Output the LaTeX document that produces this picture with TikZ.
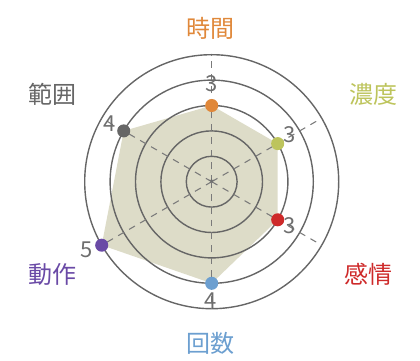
\documentclass[tikz,border=0pt]{standalone}
\usepackage{fontspec}
\setmainfont{Noto Sans CJK JP}
\usetikzlibrary{calc}
\definecolor{cTime}{HTML}{E0883A}
\definecolor{cDens}{HTML}{BDC45C}
\definecolor{cEmo}{HTML}{CE2A2A}
\definecolor{cCnt}{HTML}{6C9FD0}
\definecolor{cAct}{HTML}{6A4AA6}
\definecolor{cRng}{HTML}{666666}
\definecolor{ringgray}{HTML}{666666}
\definecolor{spokegray}{HTML}{7A7A7A}
\definecolor{numgray}{HTML}{6E6E6E}
\definecolor{polyfill}{HTML}{DDDCC8}
\tikzset{
  ring/.style={draw=ringgray, line width=1.05pt},
  spoke/.style={draw=spokegray, line width=0.8pt, dash pattern=on 5pt off 4.5pt},
  dot/.style={circle, inner sep=0pt, minimum size=9.8pt},
  numlab/.style={text=numgray, font=\fontsize{16.5}{18}\selectfont, inner sep=0pt},
  catlab/.style={font=\fontsize{18}{20}\selectfont, inner sep=0pt},
}
\begin{document}
\begin{tikzpicture}[x=0.75pt,y=0.75pt]
\useasboundingbox (0,0) rectangle (420,360);
\coordinate (C) at (211.7,178.3);
\coordinate (p1) at ([shift={(90:76.2)}]C);
\coordinate (p2) at ([shift={(30:76.2)}]C);
\coordinate (p3) at ([shift={(-30:76.2)}]C);
\coordinate (p4) at ([shift={(-90:101.6)}]C);
\coordinate (p5) at ([shift={(210:127)}]C);
\coordinate (p6) at ([shift={(150:101.6)}]C);
\fill[polyfill] (p1) -- (p2) -- (p3) -- (p4) -- (p5) -- (p6) -- cycle;
\foreach \r in {25.4,50.8,76.2,101.6,127}{
  \draw[ring] (C) circle [radius=\r*0.75pt];
}
\foreach \a/\n in {90/s1,30/s2,-30/s3,-90/s4,210/s5,150/s6}{
  \coordinate (\n) at ([shift={(\a:127)}]C);
  \draw[spoke] (C) -- (\n);
}
\node[text=numgray, font=\fontsize{10}{10}\selectfont, inner sep=0pt] (star) at ([yshift=-1.5]C) {*};
\node[dot, fill=cTime] (d1) at (p1) {};
\node[dot, fill=cDens] (d2) at (p2) {};
\node[dot, fill=cEmo] (d3) at (p3) {};
\node[dot, fill=cCnt] (d4) at (p4) {};
\node[dot, fill=cAct] (d5) at (p5) {};
\node[dot, fill=cRng] (d6) at (p6) {};
\node[numlab] (n1) at (211.7,276) {3};
\node[numlab] (n2) at (289.3,225) {3};
\node[numlab] (n3) at (289.3,134) {3};
\node[numlab] (n4) at (210.5,59.5) {4};
\node[numlab] (n5) at (86.7,110) {5};
\node[numlab] (n6) at (109.3,236.7) {4};
\node[catlab, text=cTime] (l1) at (210,331.5) {時間};
\node[catlab, text=cDens] (l2) at (373,266) {濃度};
\node[catlab, text=cEmo] (l3) at (368.5,86) {感情};
\node[catlab, text=cCnt] (l4) at (210,16.5) {回数};
\node[catlab, text=cAct] (l5) at (52.5,86) {動作};
\node[catlab, text=cRng] (l6) at (52.5,266) {範囲};
\end{tikzpicture}
\end{document}
